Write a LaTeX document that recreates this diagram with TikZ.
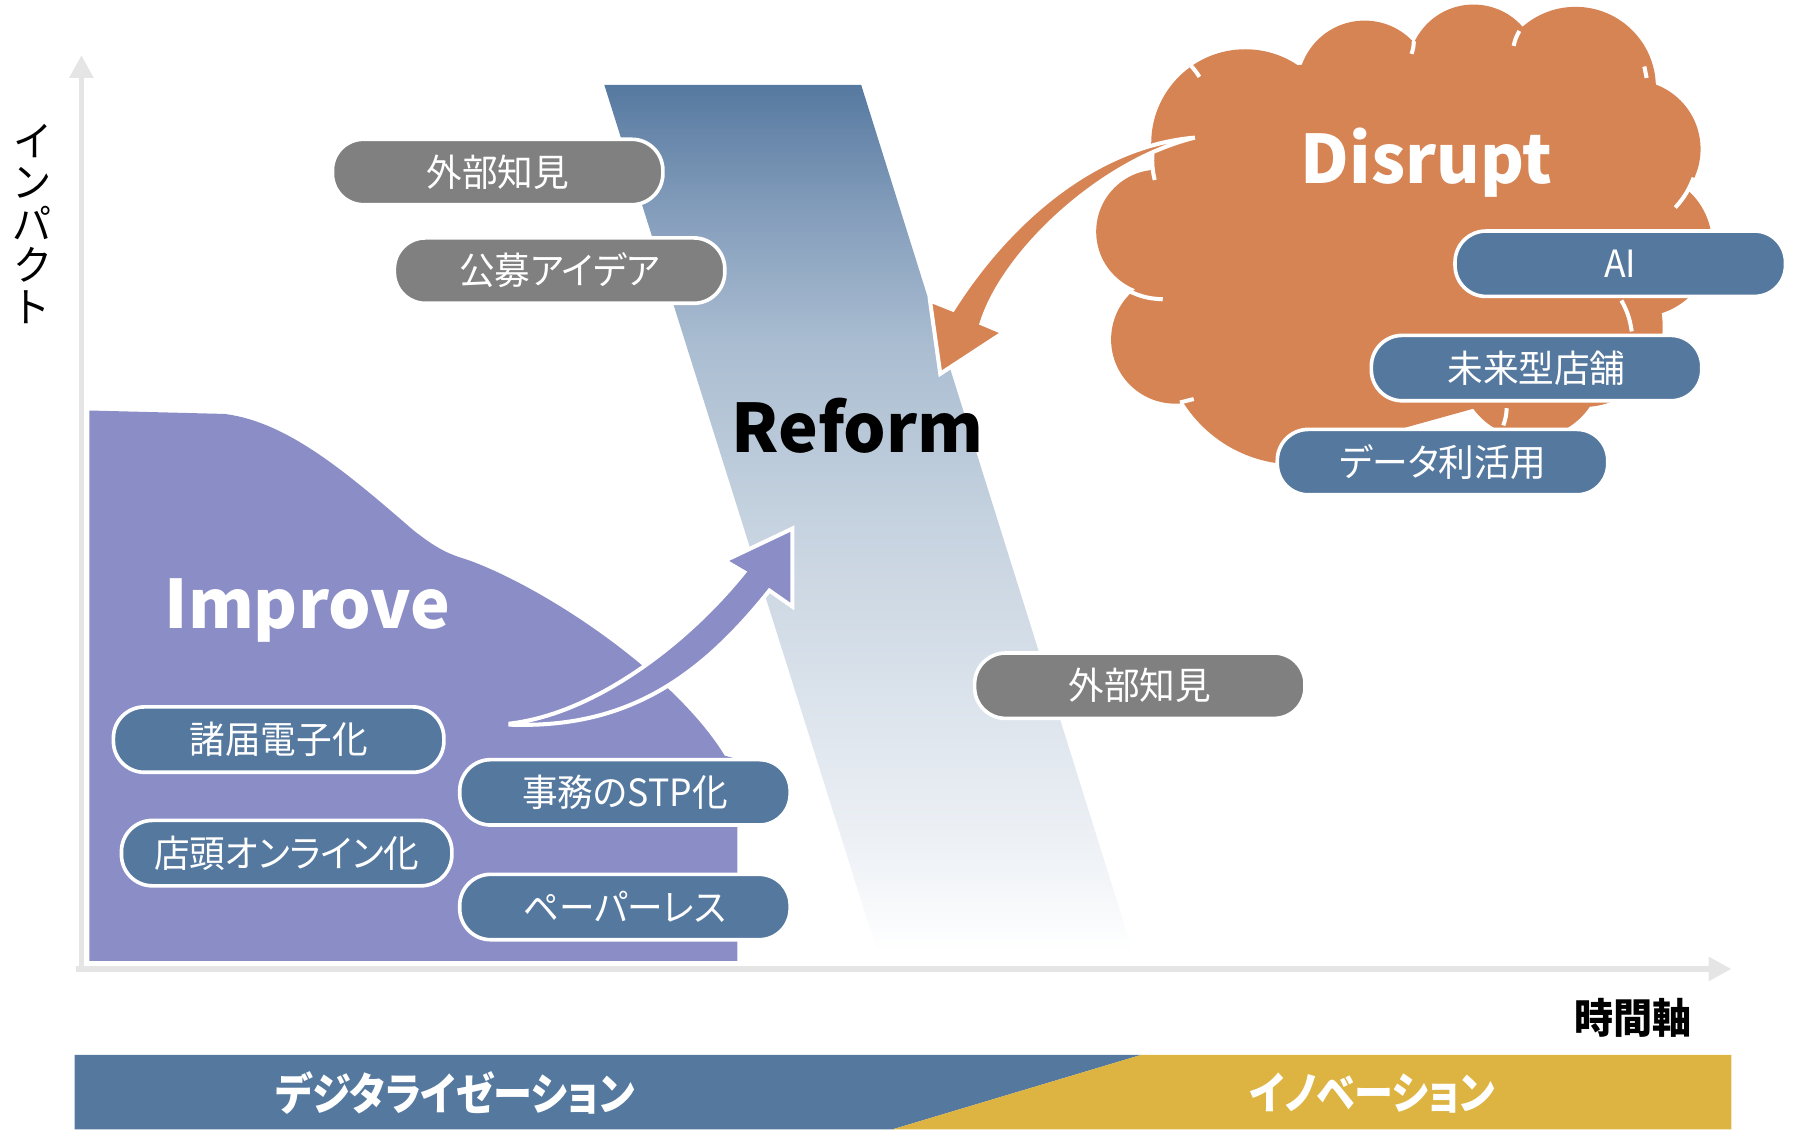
\documentclass[tikz,border=0pt]{standalone}
\usepackage{fontspec}
\newfontfamily\jp{Noto Sans CJK JP}[RawFeature=+palt,FakeStretch=0.95]
\newfontfamily\jpbar{Noto Sans CJK JP}[RawFeature=+palt,FakeStretch=0.88]
\newfontfamily\lat{Noto Sans CJK JP}
\usetikzlibrary{arrows.meta}

\definecolor{axisgray}{RGB}{229,229,229}
\definecolor{pillblue}{RGB}{85,120,158}
\definecolor{pillgray}{RGB}{128,128,128}
\definecolor{improvepurple}{RGB}{139,141,199}
\definecolor{disruptorange}{RGB}{215,132,85}
\definecolor{innovgold}{RGB}{221,180,65}
\definecolor{bandA}{RGB}{240,243,247}
\definecolor{bandB}{RGB}{218,226,235}
\definecolor{bandC}{RGB}{197,210,223}
\definecolor{bandD}{RGB}{170,189,209}
\definecolor{bandE}{RGB}{133,158,188}
\definecolor{bandF}{RGB}{86,121,160}
\pgfdeclareverticalshading{reformfade}{100bp}{color(0bp)=(white); color(25bp)=(white); color(30bp)=(bandA); color(40bp)=(bandB); color(50bp)=(bandC); color(60bp)=(bandD); color(67.5bp)=(bandE); color(75bp)=(bandF); color(100bp)=(bandF)}

\begin{document}
\begin{tikzpicture}[x=0.01cm,y=-0.01cm,
  axis/.style={draw=axisgray,line width=0.05cm,-{Triangle[length=0.2cm,width=0.2cm]}},
  pill/.style={draw=white,line width=0.9pt,rounded corners=0.27cm,minimum width=2.88cm,minimum height=0.57cm,inner sep=0pt,text=white,font=\jp\fontsize{9.3}{11}\selectfont},
  graypill/.style={pill,fill=pillgray},
  bluepill/.style={pill,fill=pillblue},
  biglabel/.style={anchor=base,inner sep=0pt,font=\lat\bfseries\fontsize{16.6}{20}\selectfont},
  barlabel/.style={text=white,font=\jpbar\bfseries\fontsize{11}{13}\selectfont},
  cloudarc/.style={draw=white,line width=1pt}]
\useasboundingbox (0,0) rectangle (1568,991);

% axes
\coordinate (xstart) at (66,845);
\coordinate (xend) at (1510,845);
\coordinate (ystart) at (71,848);
\coordinate (yend) at (71,48);
\draw[axis] (xstart) -- (xend);
\draw[axis] (ystart) -- (yend);
\node[font=\jp\fontsize{10.2}{10.3}\selectfont,align=center] (impact) at (28,195) {イ\\ン\\パ\\ク\\ト};
\node[font=\jp\bfseries\fontsize{10.2}{12}\selectfont] (time) at (1424,888) {時間軸};

% reform band
\shade[shading=reformfade] (527,74) -- (751,74) -- (988,830) -- (765,830) -- cycle;

% improve area
\fill[improvepurple] (78,358) -- (196,361) .. controls (250,368) and (300,410) .. (360,462)
  .. controls (385,482) and (395,484) .. (410,489) .. controls (480,515) and (590,590) .. (632,659)
  -- (643,662) -- (643,838) -- (78,838) -- cycle;

% disrupt cloud
\fill[disruptorange] (1086,125) circle[radius=0.82cm] (1190,76) circle[radius=0.58cm]
  (1285,61) circle[radius=0.57cm] (1374,76) circle[radius=0.70cm] (1423,130) circle[radius=0.60cm]
  (1430,213) circle[radius=0.63cm] (1380,285) circle[radius=0.70cm] (1335,320) circle[radius=0.62cm]
  (1130,289) circle[radius=1.16cm] (1010,202) circle[radius=0.54cm] (1025,296) circle[radius=0.56cm];
\fill[disruptorange] (1010,150) -- (1100,60) -- (1300,40) -- (1420,100) -- (1440,240) -- (1380,330)
  -- (1200,380) -- (1040,300) -- cycle;
\draw[cloudarc] (1005,134) to[bend right=8] (1007,157);
\draw[cloudarc] (1033,52) to[bend left=8] (1046,67);
\draw[cloudarc] (1233,36) to[bend left=8] (1231,47);
\draw[cloudarc] (1325,27) to[bend right=8] (1320,40);
\draw[cloudarc] (1434,58) -- (1436,68);
\draw[cloudarc] (1477,155) to[bend left=10] (1461,181);
\draw[cloudarc] (1414,262) to[bend left=10] (1423,289);
\draw[cloudarc] (1314,356) to[bend left=8] (1311,371);
\draw[cloudarc] (983,253) to[bend right=12] (1014,261);
\draw[cloudarc] (1029,351) -- (1041,348);

% block arrows
\filldraw[fill=disruptorange,draw=white,line width=1pt] (1042,120) .. controls (950,128) and (875,200) .. (831,270)
  -- (811,262) -- (820,326) -- (875,290) -- (856,282) .. controls (875,220) and (960,140) .. (1042,120) -- cycle;
\filldraw[fill=improvepurple,draw=white,line width=1pt] (445,631) .. controls (520,622) and (600,560) .. (649,499)
  -- (632,489) -- (691,461) -- (691,529) -- (671,515) .. controls (605,598) and (540,635) .. (445,632) -- cycle;

% items
\node[graypill] (know1) at (434,150) {外部知見};
\node[graypill] (idea) at (488,236) {公募アイデア};
\node[graypill] (know2) at (994,598) {外部知見};
\node[bluepill] (ai) at (1413,230) {AI};
\node[bluepill] (store) at (1340,321) {未来型店舗};
\node[bluepill] (data) at (1258,403) {データ利活用};
\node[bluepill] (forms) at (243,645) {諸届電子化};
\node[bluepill] (stp) at (545,691) {事務のSTP化};
\node[bluepill] (online) at (250,744) {店頭オンライン化};
\node[bluepill] (paper) at (545,791) {ペーパーレス};

\node[biglabel,text=white] (improve) at (268,548) {Improve};
\node[biglabel] (reform) at (748,395) {Reform};
\node[biglabel,text=white] (disrupt) at (1244,160) {Disrupt};

% bottom bar
\fill[pillblue] (65,920) -- (995,920) -- (778,985) -- (65,985) -- cycle;
\fill[innovgold] (995,920) -- (1510,920) -- (1510,985) -- (778,985) -- cycle;
\node[barlabel] (digi) at (397,953) {デジタライゼーション};
\node[barlabel] (inno) at (1197,953) {イノベーション};
\end{tikzpicture}
\end{document}
